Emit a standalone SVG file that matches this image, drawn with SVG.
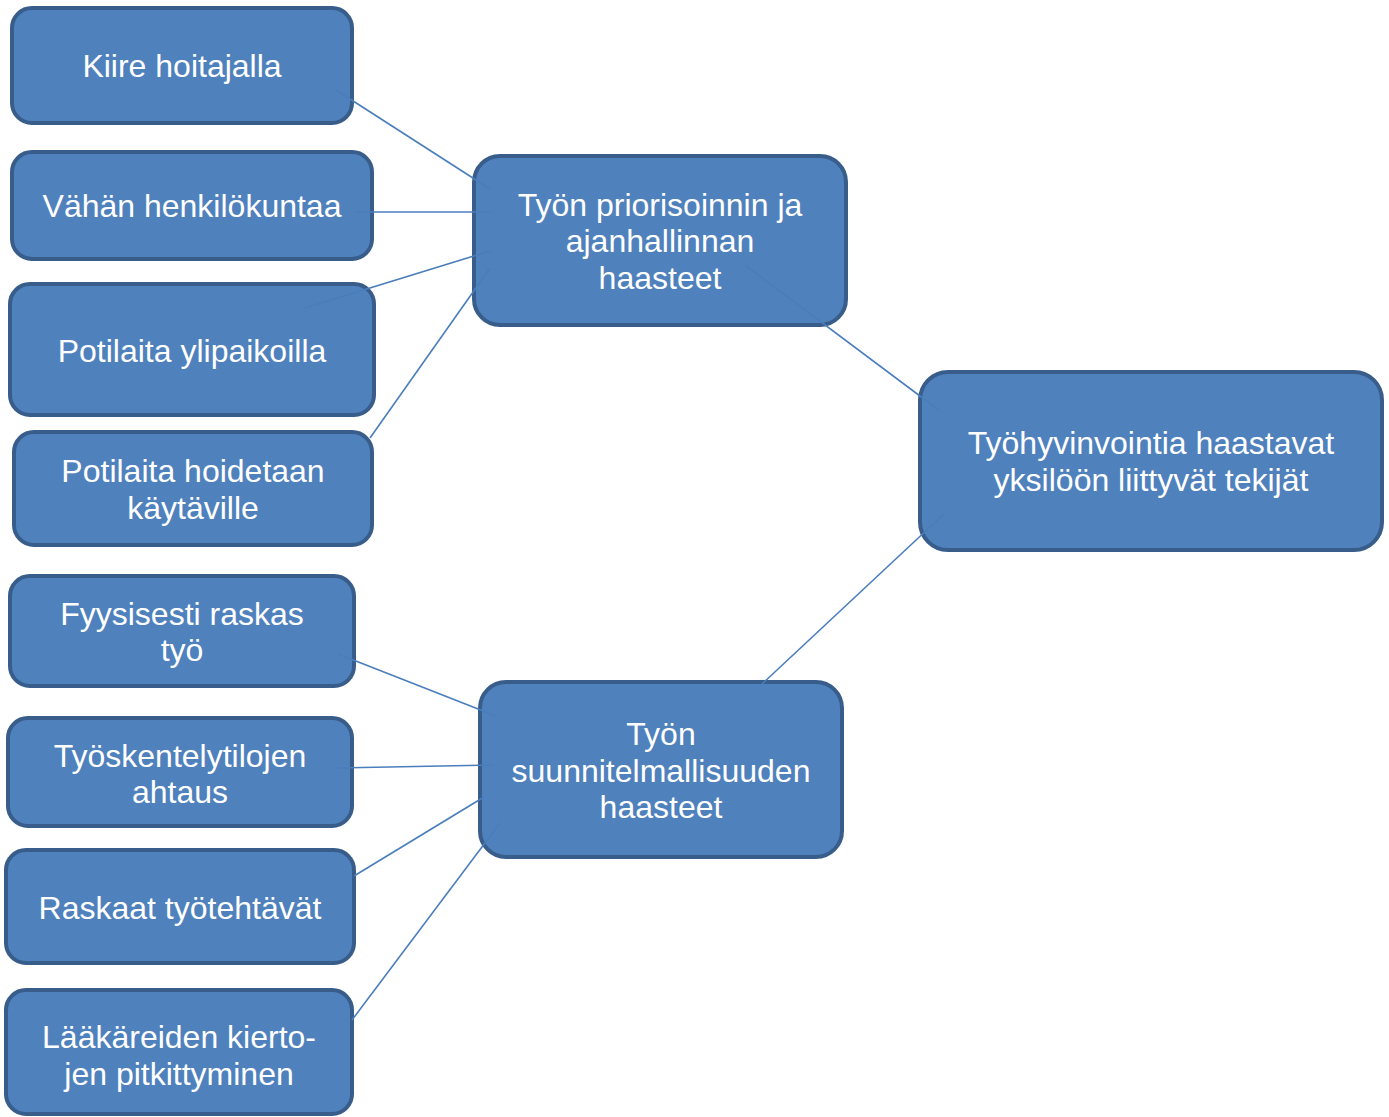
<svg xmlns="http://www.w3.org/2000/svg" width="1389" height="1117" viewBox="0 0 1389 1117">
<style>
.box{fill:#4f81bd;stroke:#385d8a;stroke-width:4}
.t{font-family:"Liberation Sans",Arial,sans-serif;font-size:32px;fill:#ffffff;text-anchor:middle}
.c{stroke:#4a7ebb;stroke-width:1.6;fill:none}
</style>
<rect width="1389" height="1117" fill="#ffffff"/>
<g id="n-kiire"><rect class="box" x="12" y="8" width="340" height="115" rx="20"/><text class="t" x="182" y="77">Kiire hoitajalla</text></g>
<g id="n-vahan"><rect class="box" x="12" y="152" width="360" height="107" rx="20"/><text class="t" x="192" y="217">Vähän henkilökuntaa</text></g>
<g id="n-ylipaikoilla"><rect class="box" x="10" y="284" width="364" height="131" rx="20"/><text class="t" x="192" y="362">Potilaita ylipaikoilla</text></g>
<g id="n-kaytaville"><rect class="box" x="14" y="432" width="358" height="113" rx="20"/><text class="t" x="193" y="482">Potilaita hoidetaan</text><text class="t" x="193" y="519">käytäville</text></g>
<g id="n-fyysisesti"><rect class="box" x="10" y="576" width="344" height="110" rx="20"/><text class="t" x="182" y="625">Fyysisesti raskas</text><text class="t" x="182" y="661">työ</text></g>
<g id="n-ahtaus"><rect class="box" x="8" y="718" width="344" height="108" rx="20"/><text class="t" x="180" y="767">Työskentelytilojen</text><text class="t" x="180" y="803">ahtaus</text></g>
<g id="n-raskaat"><rect class="box" x="6" y="850" width="348" height="113" rx="20"/><text class="t" x="180" y="919">Raskaat työtehtävät</text></g>
<g id="n-laakareiden"><rect class="box" x="6" y="990" width="346" height="124" rx="20"/><text class="t" x="179" y="1048">Lääkäreiden kierto-</text><text class="t" x="179" y="1085">jen pitkittyminen</text></g>
<g id="n-priorisointi"><rect class="box" x="474" y="156" width="372" height="169" rx="26"/><text class="t" x="660" y="216">Työn priorisoinnin ja</text><text class="t" x="660" y="252">ajanhallinnan</text><text class="t" x="660" y="289">haasteet</text></g>
<g id="n-suunnitelmallisuus"><rect class="box" x="480" y="682" width="362" height="175" rx="26"/><text class="t" x="661" y="745">Työn</text><text class="t" x="661" y="782">suunnitelmallisuuden</text><text class="t" x="661" y="818">haasteet</text></g>
<g id="n-tyohyvinvointi"><rect class="box" x="920" y="372" width="462" height="178" rx="28"/><text class="t" x="1151" y="454">Työhyvinvointia haastavat</text><text class="t" x="1151" y="491">yksilöön liittyvät tekijät</text></g>
<g id="connectors">
<line class="c" x1="336" y1="90" x2="490" y2="189"/>
<line class="c" x1="356" y1="212" x2="490" y2="212"/>
<line class="c" x1="305" y1="308" x2="490" y2="251"/>
<line class="c" x1="370" y1="438" x2="490" y2="268"/>
<line class="c" x1="745" y1="265" x2="940" y2="411"/>
<line class="c" x1="762" y1="684" x2="945" y2="513"/>
<line class="c" x1="338" y1="654" x2="496" y2="716"/>
<line class="c" x1="336" y1="768" x2="494" y2="765"/>
<line class="c" x1="354" y1="876" x2="484" y2="797"/>
<line class="c" x1="352" y1="1020" x2="500" y2="823"/>
</g>
</svg>
